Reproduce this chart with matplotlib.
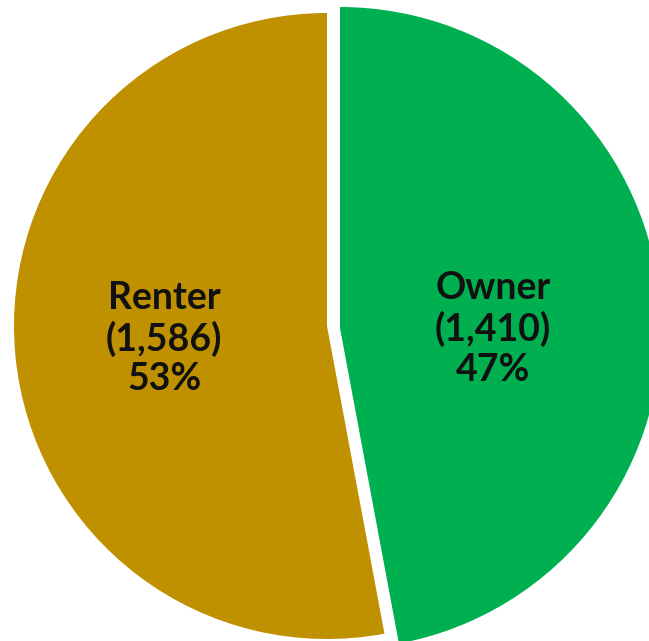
import matplotlib
matplotlib.use("Agg")
import matplotlib.pyplot as plt

categories = ["Owner", "Renter"]
counts = [1410, 1586]
colors = ["#00B050", "#BF9000"]

total = sum(counts)
labels = [f"{c}\n({n:,})\n{round(100 * n / total)}%" for c, n in zip(categories, counts)]

# pixel geometry of the original (renter wedge centre, radius)
cx, cy, r = 327, 326, 313
W, H = 649, 641

fig = plt.figure(figsize=(W / 100, H / 100), dpi=100)
ax = fig.add_axes([0, 0, 1, 1])

wedges, texts = ax.pie(
    counts,
    labels=labels,
    colors=colors,
    startangle=90,
    counterclock=False,
    explode=[13 / r, 0],
    labeldistance=0.52,
    wedgeprops=dict(linewidth=0),
    textprops=dict(fontsize=27, fontweight="bold", family="Lato",
                   color="#111111", ha="center", va="center", linespacing=1.2),
)
# owner wedge is drawn a touch larger in the original
wedges[0].set_radius(321 / r)
wedges[0].set_center((13 / r, -2 / r))

texts[0].set_position((0.53, -0.01))
texts[1].set_position((-0.52, -0.04))

ax.set_xlim(-cx / r, (W - cx) / r)
ax.set_ylim(-(H - cy) / r, cy / r)
ax.set_aspect("equal")
ax.axis("off")

fig.savefig("out.png", dpi=100, facecolor="white")
